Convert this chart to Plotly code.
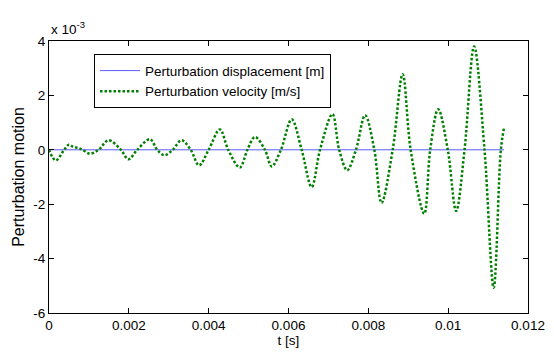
import plotly.graph_objects as go

# time in seconds
t = [0.00000, 0.00017, 0.00038, 0.00050, 0.00061, 0.00073, 0.00084, 0.00102, 0.00124, 0.00149,
     0.00180, 0.00199, 0.00221, 0.00253, 0.00271, 0.00289, 0.00310, 0.00332, 0.00355, 0.00376,
     0.00400, 0.00428, 0.00449, 0.00478, 0.00497, 0.00516, 0.00541, 0.00558, 0.00581, 0.00608,
     0.00633, 0.00658, 0.00679, 0.00710, 0.00727, 0.00747, 0.00769, 0.00792, 0.00815, 0.00833,
     0.00861, 0.00886, 0.00906, 0.00940, 0.00955, 0.00975, 0.00999, 0.01020, 0.01041, 0.01065,
     0.01091, 0.01114, 0.01132, 0.01140]

# perturbation velocity [m/s], in units of 1e-3
velocity = [0.00, -0.39, 0.00, 0.19, 0.10, 0.07, 0.00, -0.14, 0.00, 0.35,
            0.00, -0.35, 0.00, 0.39, 0.00, -0.20, 0.00, 0.35, 0.00, -0.57,
            0.00, 0.75, 0.00, -0.65, 0.00, 0.47, 0.00, -0.61, 0.00, 1.12,
            0.00, -1.37, 0.00, 1.31, 0.00, -0.75, 0.00, 1.27, 0.00, -1.95,
            0.00, 2.78, 0.00, -2.35, 0.00, 1.49, 0.00, -2.25, 0.00, 3.80,
            0.00, -5.07, 0.00, 0.82]

# perturbation displacement [m], in units of 1e-3 (negligible on this scale)
displacement = [0.0] * len(t)

x_ticks = [0, 0.002, 0.004, 0.006, 0.008, 0.01, 0.012]
x_tick_labels = ["0", "0.002", "0.004", "0.006", "0.008", "0.01", "0.012"]
y_ticks = [-6, -4, -2, 0, 2, 4]
y_tick_labels = ["-6", "-4", "-2", "0", "2", "4"]

font_h = "Liberation Sans, Arial, sans-serif"

fig = go.Figure()
fig.add_trace(go.Scatter(x=t, y=displacement, mode="lines", name="Perturbation displacement [m]",
                         line=dict(color="#5a5aff", width=1)))
fig.add_trace(go.Scatter(x=t, y=velocity, mode="lines", name="Perturbation velocity [m/s]",
                         line=dict(color="#008000", width=2.5, dash="2.5px,2px", shape="spline", smoothing=1)))

axis_common = dict(showline=True, linecolor="black", linewidth=1, mirror="ticks",
                   ticks="inside", ticklen=5, tickcolor="black", showgrid=False, zeroline=False,
                   automargin=False,
                   tickfont=dict(family=font_h, size=13.5, color="black"))

fig.update_layout(
    width=554, height=354,
    margin=dict(l=49, r=26, t=41, b=41),
    paper_bgcolor="white", plot_bgcolor="white",
    showlegend=True,
    legend=dict(x=0.094, y=0.951, xanchor="left", yanchor="top",
                bordercolor="black", borderwidth=1, bgcolor="white",
                font=dict(family=font_h, size=13.5, color="black"),
                tracegroupgap=0, itemwidth=40),
    xaxis=dict(range=[0, 0.012], tickvals=x_ticks, ticktext=x_tick_labels,
               title=dict(text="t [s]", font=dict(family=font_h, size=13.5, color="black"), standoff=0),
               **axis_common),
    yaxis=dict(range=[-6, 4], tickvals=y_ticks, ticktext=y_tick_labels,
               title=dict(text="Perturbation motion", font=dict(family=font_h, size=16, color="black"), standoff=4),
               **axis_common),
    annotations=[dict(text="x 10<sup>-3</sup>", xref="paper", yref="paper", x=0, y=1.0,
                      xanchor="left", yanchor="bottom", showarrow=False, yshift=2,
                      font=dict(family=font_h, size=13.5, color="black"))],
)

fig.write_html("out.html", config={"displayModeBar": False},
               post_script="document.body.style.margin='0';document.body.style.overflow='hidden';")
